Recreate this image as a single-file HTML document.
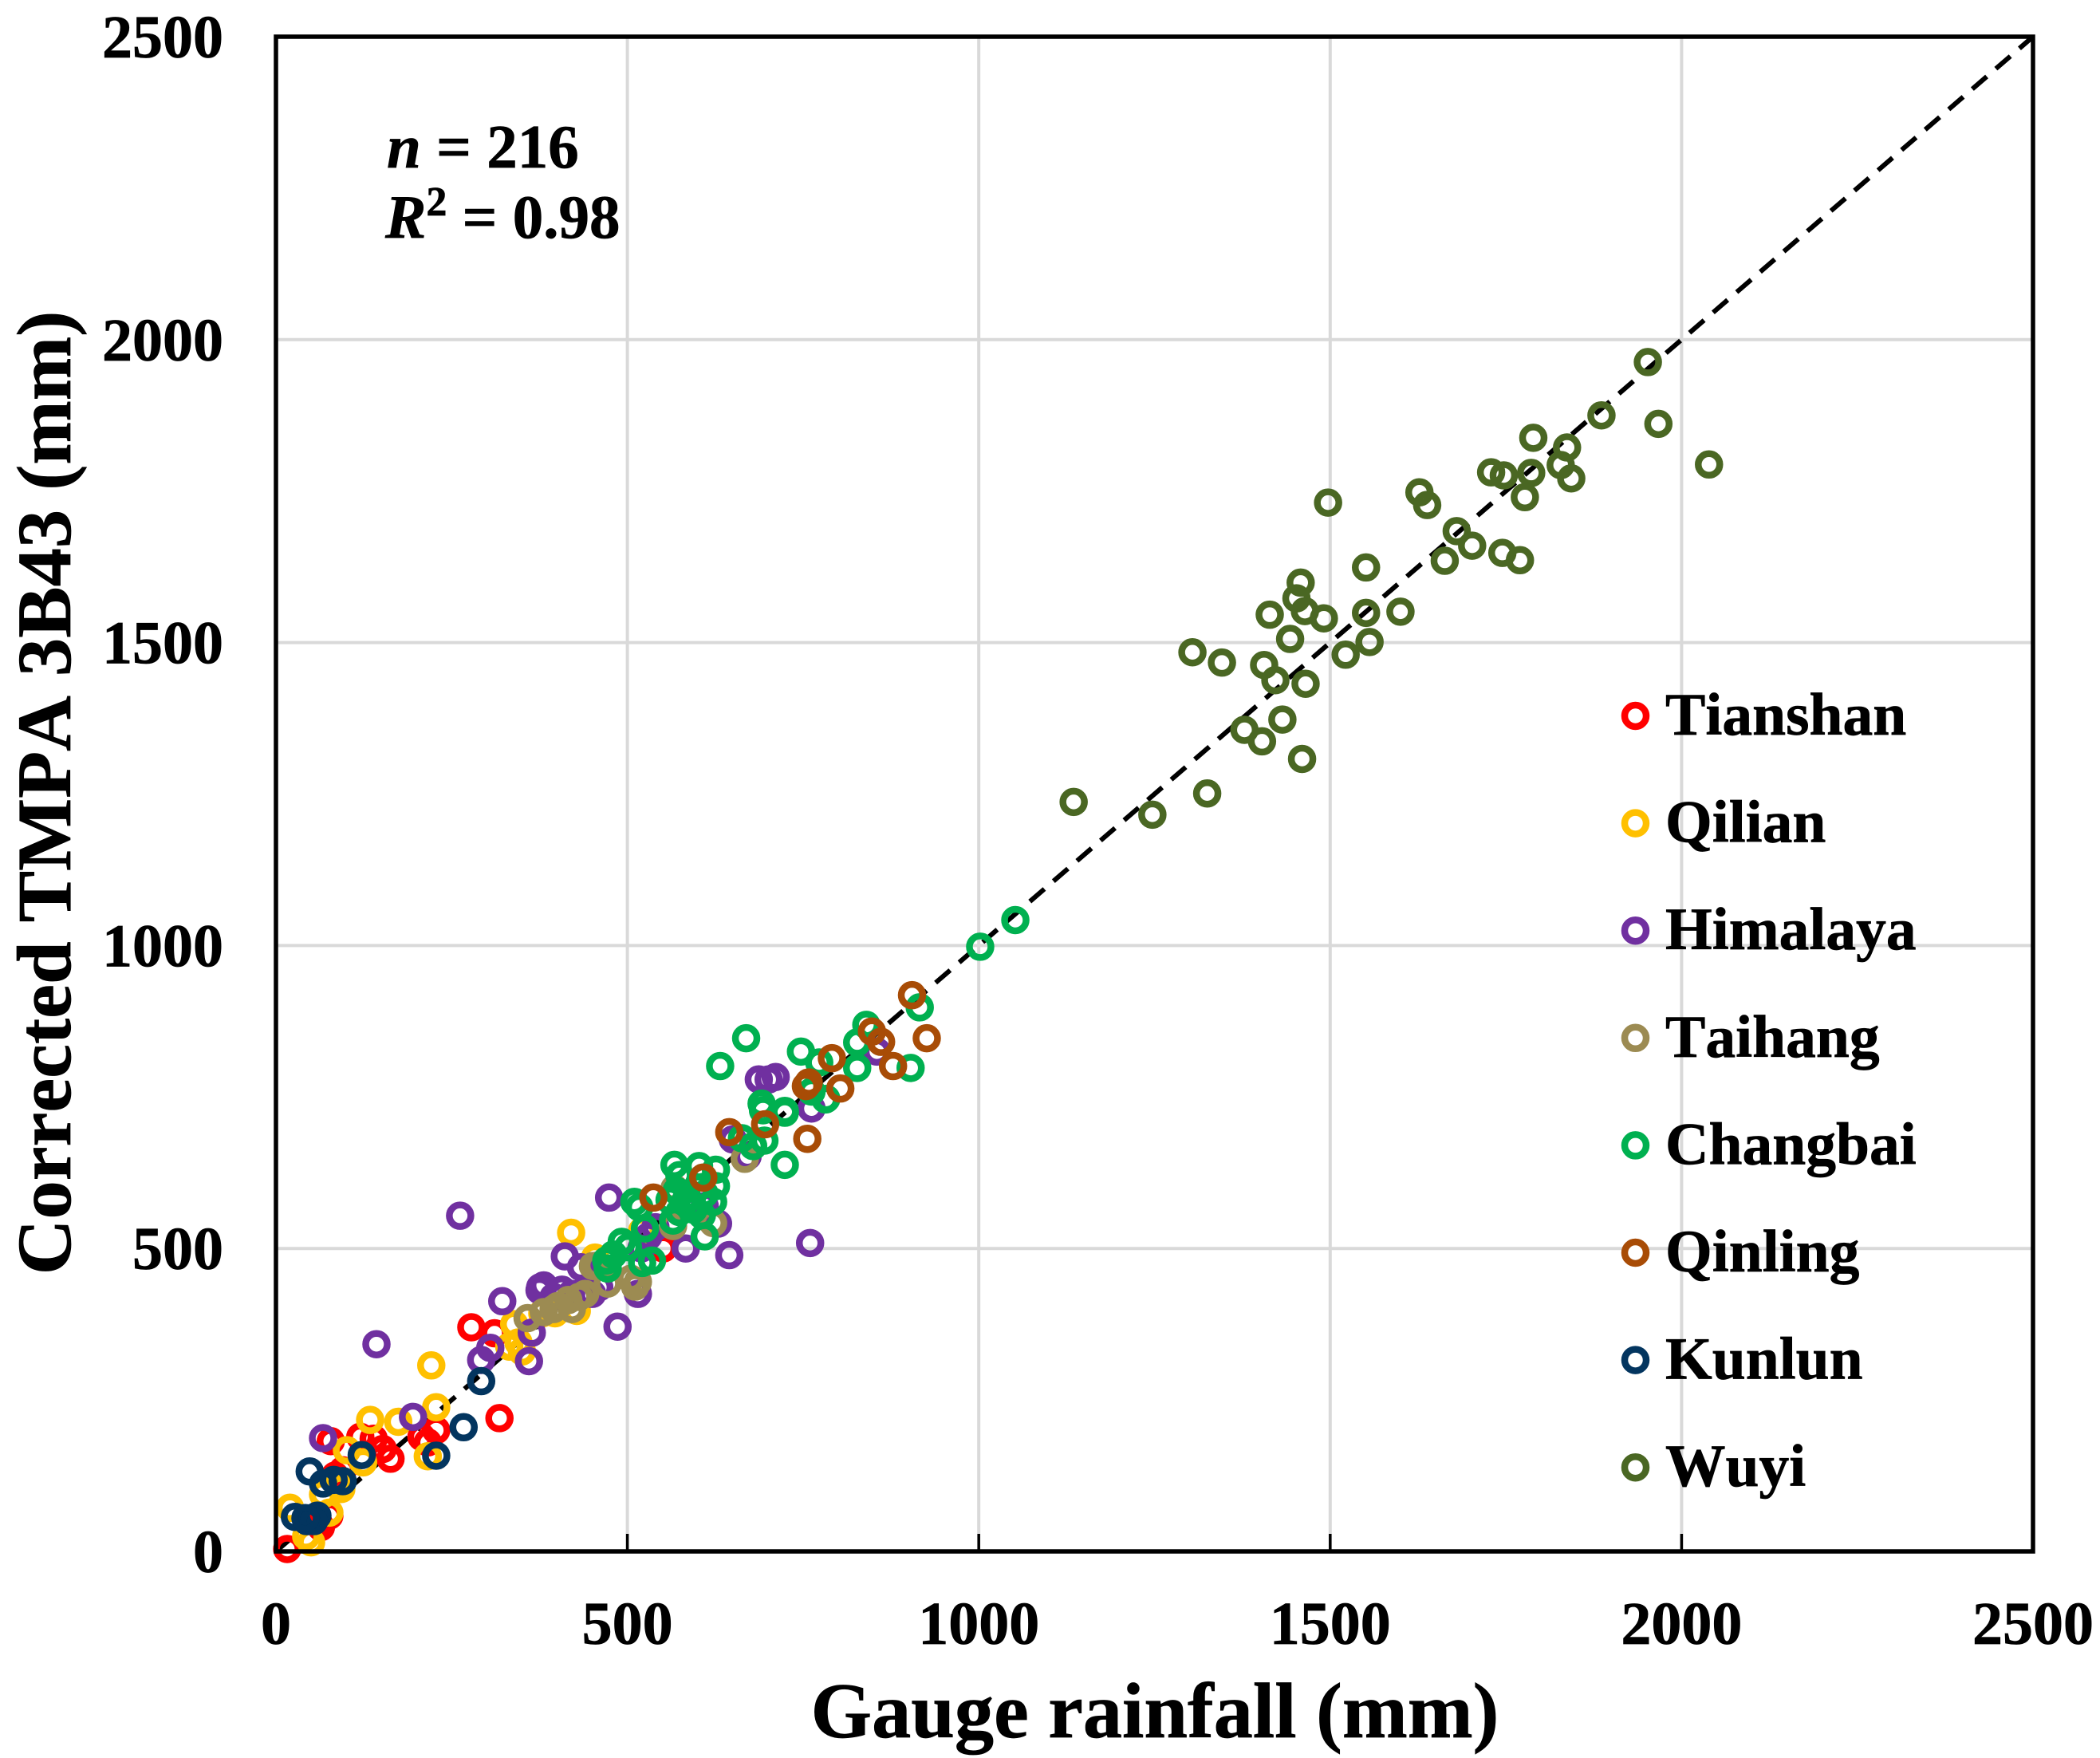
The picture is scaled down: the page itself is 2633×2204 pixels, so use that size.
<!DOCTYPE html>
<html lang="en">
<head>
<meta charset="utf-8">
<title>Corrected TMPA 3B43 vs Gauge rainfall</title>
<style>
html,body{margin:0;padding:0;background:#fff;}
svg{display:block;}
text{font-family:"Liberation Serif",serif;font-weight:bold;fill:#000;font-kerning:none;stroke:#000;stroke-width:0.7px;}
</style>
</head>
<body>
<svg id="chart" xmlns="http://www.w3.org/2000/svg" width="2633" height="2204" viewBox="0 0 2633 2204">
  <rect x="0" y="0" width="2633" height="2204" fill="#ffffff"/>
  <g id="grid"></g>
  <g id="ref"></g>
  <g id="marks"></g>
  <g id="frame"></g>
  <g id="xticks"></g>
  <g id="yticks"></g>
  <text x="1448" y="2178" font-size="98.3" text-anchor="middle">Gauge rainfall (mm)</text>
  <text transform="translate(88 994) rotate(-90)" font-size="96.5" text-anchor="middle">Corrected TMPA 3B43 (mm)</text>
  <text x="485" y="210" font-size="77"><tspan font-style="italic">n</tspan> = 216</text>
  <text x="483" y="298" font-size="77"><tspan font-style="italic">R</tspan><tspan font-size="52" dy="-28">2</tspan><tspan dy="28"> = 0.98</tspan></text>
  <g id="legend"></g>
</svg>
<script>
const axisMax = 2500;
const xTickValues = [0, 500, 1000, 1500, 2000, 2500];
const yTickValues = [0, 500, 1000, 1500, 2000, 2500];
const refLine = [0, 2500];

const seriesNames = ["Tianshan", "Qilian", "Himalaya", "Taihang", "Changbai", "Qinling", "Kunlun", "Wuyi"];

const tianshanX = [16,278,311,318,228,207,163,152,139,120,78,84,95,76,61,551,64,216];
const tianshanY = [4,370,360,220,200,189,153,169,186,189,182,125,134,59,46,500,40,180];

const qilianX = [43,20,76,67,93,101,124,134,174,216,228,221,332,339,420,454,397,428,521,379,345,350,50,88];
const qilianY = [25,72,64,94,103,167,147,217,214,157,238,307,338,375,526,485,393,397,529,393,345,330,15,110];

const himalayaX = [143,67,195,305,292,364,360,262,474,411,434,486,515,583,645,760,381,407,436,460,629,671,762,701,687,711,855,322,376,395,420,450,375,530,610,650,520,540];
const himalayaY = [342,187,222,336,316,361,314,554,584,487,469,371,425,500,489,509,439,432,428,436,541,652,731,779,779,783,825,413,436,420,425,425,431,520,570,680,500,535];

const taihangX = [358,381,401,416,431,421,451,472,505,511,458,565,622,667,567,395,440,515];
const taihangY = [385,395,405,415,420,400,471,442,450,437,472,537,542,648,599,400,425,445];

const changbaiX = [510,517,525,492,501,470,472,521,535,567,574,602,626,626,622,570,582,574,594,565,610,606,608,724,663,679,695,691,693,724,762,782,756,840,916,903,669,632,747,827,827,773,783,724,1002,1052,585,590,600,560,610,480];
const changbaiY = [577,568,533,511,502,480,467,476,480,638,621,636,630,603,577,595,577,560,564,546,520,555,617,638,682,669,678,739,728,724,759,746,770,869,898,798,847,801,825,798,840,807,747,727,998,1042,585,570,600,580,590,490];

const qinlingX = [537,608,645,696,756,754,803,905,926,878,861,848,791,758];
const qinlingY = [584,617,692,705,681,768,764,918,847,801,841,858,814,774];

const kunlunX = [48,122,228,267,292,67,82,95,27,44,52,59,54,42];
const kunlunY = [132,159,158,205,281,112,118,116,57,50,55,59,50,55];

const wuyiX = [1952,1886,1967,2039,1789,1837,1828,1843,1786,1729,1747,1777,1497,1627,1638,1680,1702,1663,1745,1770,1551,1458,1452,1464,1491,1414,1551,1600,1443,1556,1522,1304,1346,1406,1422,1465,1432,1378,1403,1460,1325,1247,1135];
const wuyiY = [1963,1875,1861,1794,1838,1822,1793,1771,1780,1781,1776,1740,1731,1748,1727,1684,1660,1635,1648,1636,1624,1599,1573,1552,1540,1546,1549,1551,1506,1501,1480,1484,1467,1463,1438,1432,1373,1356,1337,1308,1251,1216,1237];

const seriesXs = [tianshanX, qilianX, himalayaX, taihangX, changbaiX, qinlingX, kunlunX, wuyiX];
const seriesYs = [tianshanY, qilianY, himalayaY, taihangY, changbaiY, qinlingY, kunlunY, wuyiY];

const NS = "http://www.w3.org/2000/svg";
const plotLeft = 346, plotRight = 2549, plotTop = 46, plotBottom = 1945;
const seriesColors = ["#ff0000", "#ffc000", "#7030a0", "#9c8b52", "#00b050", "#a84c06", "#03355f", "#4a6723"];

function sx(v) { return plotLeft + (v / axisMax) * (plotRight - plotLeft); }
function sy(v) { return plotBottom - (v / axisMax) * (plotBottom - plotTop); }
function make(tag, parent, attrs) {
  const el = document.createElementNS(NS, tag);
  for (const k in attrs) el.setAttribute(k, attrs[k]);
  parent.appendChild(el);
  return el;
}

const grid = document.getElementById("grid");
xTickValues.slice(1, -1).forEach(function (v) {
  const el = make("line", grid, { x1: sx(v), x2: sx(v), y1: plotTop, y2: plotBottom, stroke: "#d9d9d9", "stroke-width": 4 });
  
  
});
yTickValues.slice(1, -1).forEach(function (v) {
  const el = make("line", grid, { x1: plotLeft, x2: plotRight, y1: sy(v), y2: sy(v), stroke: "#d9d9d9", "stroke-width": 4 });
  
  
});

const refGroup = document.getElementById("ref");
const refEl = make("line", refGroup, { x1: sx(refLine[0]), y1: sy(refLine[0]), x2: sx(refLine[1]), y2: sy(refLine[1]), stroke: "#000", "stroke-width": 6, "stroke-dasharray": "24 15" });



const marks = document.getElementById("marks");
seriesNames.forEach(function (name, i) {
  const g = make("g", marks, {});
  
  
  seriesXs[i].forEach(function (xv, j) {
    const el = make("circle", g, { cx: sx(xv), cy: sy(seriesYs[i][j]), r: 13.5, fill: "none", stroke: seriesColors[i], "stroke-width": 8.5 });
    
    
  });
});

const frame = document.getElementById("frame");
const frameEl = make("rect", frame, { x: plotLeft, y: plotTop, width: plotRight - plotLeft, height: plotBottom - plotTop, fill: "none", stroke: "#000", "stroke-width": 5.5 });


xTickValues.slice(1, -1).forEach(function (v) {
  const el = make("line", frame, { x1: sx(v), x2: sx(v), y1: plotBottom - 22, y2: plotBottom, stroke: "#000", "stroke-width": 3.5 });
  
  
});

const xticks = document.getElementById("xticks");
xTickValues.forEach(function (v) {
  const el = make("text", xticks, { x: sx(v), y: 2061, "font-size": 76, "text-anchor": "middle" });
  el.textContent = String(v);
  
  
});
const yticks = document.getElementById("yticks");
yTickValues.forEach(function (v) {
  const el = make("text", yticks, { x: 280, y: sy(v) + 26, "font-size": 76, "text-anchor": "end" });
  el.textContent = String(v);
  
  
});

const legend = document.getElementById("legend");
seriesNames.forEach(function (name, i) {
  const g = make("g", legend, {});
  
  
  const cy = 897.5 + i * 134.6;
  const m = make("circle", g, { cx: 2050.5, cy: cy, r: 13.5, fill: "#fff", "fill-opacity": 1, stroke: seriesColors[i], "stroke-width": 8.5 });
  
  
  const t = make("text", g, { x: 2088, y: cy + 23.5, "font-size": 75.5 });
  t.textContent = name;
  
  
});
</script>
</body>
</html>
